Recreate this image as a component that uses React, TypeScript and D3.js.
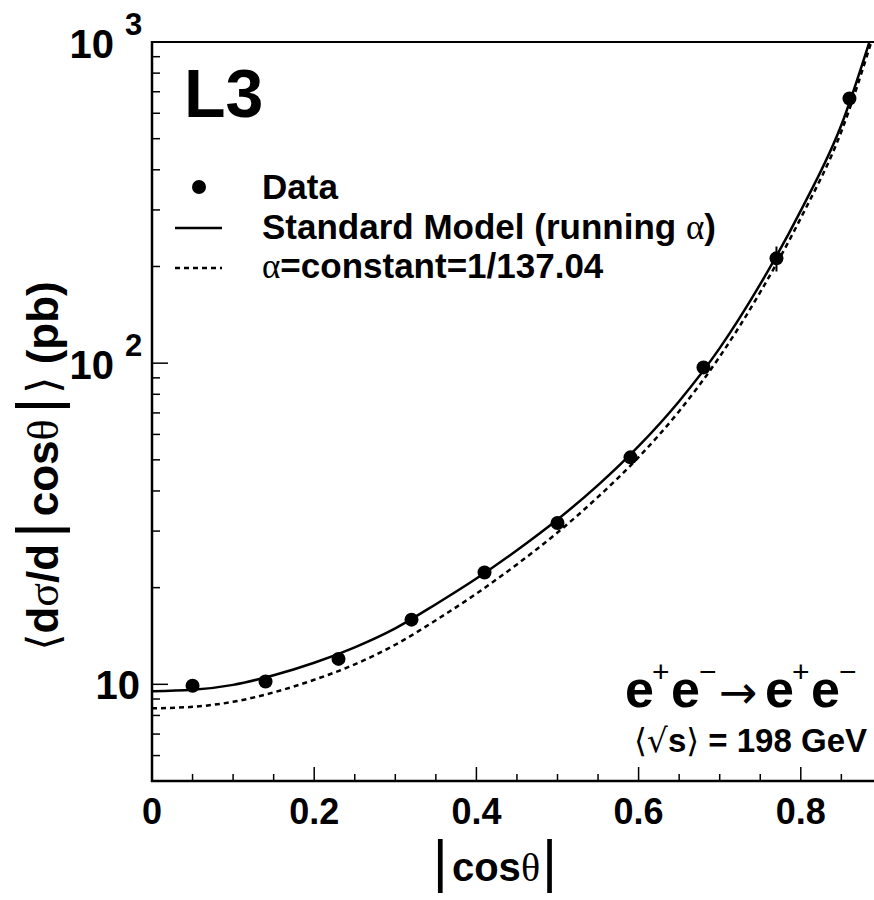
import React, { useEffect, useRef } from 'react';
import * as d3 from 'd3';

// measured points: |cos theta| bin centres, cross section (pb), error (pb)
const binCentres = [0.05, 0.14, 0.23, 0.32, 0.41, 0.5, 0.59, 0.68, 0.77, 0.86];
const dataXsec = [9.9, 10.2, 12.0, 15.9, 22.3, 31.8, 50.9, 97, 212, 667];
const dataErr = [0.3, 0.3, 0.35, 0.45, 0.6, 0.9, 1.5, 3, 19, 20];

// theory curves sampled along |cos theta|
const curveX = [0, 0.05, 0.1, 0.15, 0.2, 0.25, 0.3, 0.35, 0.4, 0.45, 0.5, 0.55, 0.6, 0.65, 0.7, 0.75, 0.8, 0.85, 0.89];
const smXsec = [9.51, 9.61, 9.96, 10.67, 11.67, 13.04, 14.94, 17.76, 21.35, 26.15, 32.6, 41.7, 55.14, 76.14, 111.4, 176.2, 298.5, 551.3, 1105];
const constXsec = [8.42, 8.51, 8.82, 9.44, 10.33, 11.54, 13.28, 15.83, 19.16, 23.63, 29.68, 38.33, 50.95, 70.88, 104.8, 166.4, 283.1, 526.3, 1059];

const xTickLabels = ['0', '0.2', '0.4', '0.6', '0.8'];

const FONT = '"Liberation Sans", Arial, Helvetica, sans-serif';
const SYM = '"Liberation Serif", "DejaVu Serif", serif';
const DJ = '"DejaVu Sans", sans-serif';

const App = () => {
  const svgRef = useRef(null);

  useEffect(() => {
    const W = 874;
    const H = 900;
    const left = 152;
    const top = 42;
    const bottom = 781;

    const svg = d3.select(svgRef.current).attr('width', W).attr('height', H);
    svg.selectAll('*').remove();

    const x = d3.scaleLinear().domain([0, 0.89]).range([left, left + 0.89 * 811]);
    const y = d3.scaleLog().domain([5, 1000]).range([bottom, top]);
    const right = x(0.89);

    svg.append('defs').append('clipPath').attr('id', 'plotclip')
      .append('rect').attr('x', left).attr('y', top).attr('width', right - left).attr('height', bottom - top);

    // frame (right side falls off the picture)
    const frame = svg.append('g').attr('stroke', '#000').attr('fill', 'none');
    frame.append('line').attr('x1', left).attr('x2', right + 2).attr('y1', top).attr('y2', top).attr('stroke-width', 2);
    frame.append('line').attr('x1', left).attr('x2', left).attr('y1', top - 1).attr('y2', bottom + 1).attr('stroke-width', 2.5);
    frame.append('line').attr('x1', left - 1).attr('x2', right + 2).attr('y1', bottom).attr('y2', bottom).attr('stroke-width', 2.5);

    // y ticks
    const yMinor = [];
    [1, 10, 100].forEach(dec => {
      for (let k = 1; k <= 9; k++) {
        const v = dec * k;
        if (v > 5 && v < 1000) yMinor.push(v);
      }
    });
    svg.append('g').selectAll('line').data(yMinor).enter().append('line')
      .attr('x1', left).attr('x2', d => left + (d === 10 || d === 100 ? 16 : 8))
      .attr('y1', d => y(d)).attr('y2', d => y(d))
      .attr('stroke', '#000').attr('stroke-width', 1.5);

    // x ticks
    const xt = d3.range(0, 18).map(i => i * 0.05);
    svg.append('g').selectAll('line').data(xt).enter().append('line')
      .attr('x1', d => x(d)).attr('x2', d => x(d))
      .attr('y1', bottom).attr('y2', (d, i) => bottom - (i % 4 === 0 ? 14 : 7))
      .attr('stroke', '#000').attr('stroke-width', 1.5);

    // x tick labels
    svg.append('g').selectAll('text').data(xTickLabels).enter().append('text')
      .attr('x', (d, i) => x(i * 0.2)).attr('y', 824)
      .attr('text-anchor', 'middle').attr('font-family', FONT).attr('font-weight', 'bold')
      .attr('font-size', 36).text(d => d);

    // y tick labels
    const yLab = svg.append('g').attr('font-family', FONT).attr('font-weight', 'bold');
    yLab.append('text').attr('x', 140).attr('y', y(10) + 15).attr('text-anchor', 'end')
      .attr('font-size', 40).text('10');
    [[100, '2'], [1000, '3']].forEach(([v, p]) => {
      yLab.append('text').attr('x', 114).attr('y', y(v) + 16).attr('text-anchor', 'end')
        .attr('font-size', 40).text('10');
      yLab.append('text').attr('x', 125).attr('y', y(v) - 7).attr('font-size', 31).text(p);
    });

    // theory curves
    const line = d3.line().x(d => x(d[0])).y(d => y(d[1])).curve(d3.curveMonotoneX);
    const plot = svg.append('g').attr('clip-path', 'url(#plotclip)');
    plot.append('path').attr('d', line(curveX.map((c, i) => [c, constXsec[i]])))
      .attr('fill', 'none').attr('stroke', '#000').attr('stroke-width', 2.5).attr('stroke-dasharray', '5,4');
    plot.append('path').attr('d', line(curveX.map((c, i) => [c, smXsec[i]])))
      .attr('fill', 'none').attr('stroke', '#000').attr('stroke-width', 2.5);

    // data points
    const pts = binCentres.map((c, i) => ({ c, v: dataXsec[i], e: dataErr[i] }));
    plot.append('g').selectAll('line').data(pts).enter().append('line')
      .attr('x1', d => x(d.c)).attr('x2', d => x(d.c))
      .attr('y1', d => y(d.v - d.e)).attr('y2', d => y(d.v + d.e))
      .attr('stroke', '#000').attr('stroke-width', 2);
    plot.append('g').selectAll('circle').data(pts).enter().append('circle')
      .attr('cx', d => x(d.c)).attr('cy', d => y(d.v)).attr('r', 7).attr('fill', '#000');

    // L3 logo
    svg.append('text').attr('x', 184).attr('y', 117).attr('font-family', FONT)
      .attr('font-weight', 'bold').attr('font-size', 68).text('L3');

    // legend
    const leg = svg.append('g').attr('font-family', FONT).attr('font-weight', 'bold').attr('font-size', 35);
    leg.append('circle').attr('cx', 199).attr('cy', 187).attr('r', 7).attr('fill', '#000');
    leg.append('text').attr('x', 262).attr('y', 199).text('Data');
    leg.append('line').attr('x1', 175).attr('x2', 222).attr('y1', 228).attr('y2', 228)
      .attr('stroke', '#000').attr('stroke-width', 2.5);
    const t2 = leg.append('text').attr('x', 262).attr('y', 239);
    t2.append('tspan').text('Standard Model (running ');
    t2.append('tspan').attr('font-family', SYM).attr('font-weight', 'normal').text('α');
    t2.append('tspan').text(')');
    leg.append('line').attr('x1', 175).attr('x2', 222).attr('y1', 268).attr('y2', 268)
      .attr('stroke', '#000').attr('stroke-width', 2.5).attr('stroke-dasharray', '5,4');
    const t3 = leg.append('text').attr('x', 262).attr('y', 278);
    t3.append('tspan').attr('font-family', SYM).attr('font-weight', 'normal').text('α');
    t3.append('tspan').text('=constant=1/137.04');

    // process label
    const proc = svg.append('g').attr('font-family', FONT);
    const big = 52;
    const pieces = [
      { t: 'e', x: 625, y: 707, s: big, b: true },
      { t: '+', x: 652, y: 682, s: 30, b: false },
      { t: 'e', x: 671, y: 707, s: big, b: true },
      { t: '−', x: 699, y: 682, s: 30, b: false },
      { t: '→', x: 719, y: 708, s: 46, b: false },
      { t: 'e', x: 765, y: 707, s: big, b: true },
      { t: '+', x: 792, y: 682, s: 30, b: false },
      { t: 'e', x: 811, y: 707, s: big, b: true },
      { t: '−', x: 839, y: 682, s: 30, b: false },
    ];
    pieces.forEach(p => {
      proc.append('text').attr('x', p.x).attr('y', p.y).attr('font-size', p.s)
        .attr('font-weight', p.b ? 'bold' : 'normal')
        .attr('font-family', p.t === '→' ? DJ : FONT).text(p.t);
    });
    const rs = proc.append('text').attr('x', 867).attr('y', 752).attr('text-anchor', 'end')
      .attr('font-size', 33).attr('font-weight', 'bold');
    rs.append('tspan').attr('font-weight', 'normal').attr('font-family', DJ).text('⟨√');
    rs.append('tspan').text('s');
    rs.append('tspan').attr('font-weight', 'normal').attr('font-family', DJ).text('⟩');
    rs.append('tspan').text(' = 198 GeV');

    // x axis title
    const xt2 = svg.append('text').attr('x', 495).attr('y', 881).attr('text-anchor', 'middle')
      .attr('font-family', FONT).attr('font-weight', 'bold').attr('font-size', 40);
    xt2.append('tspan').attr('font-weight', 'normal').attr('font-size', 58).text('|');
    xt2.append('tspan').attr('dx', 4).text('cos');
    xt2.append('tspan').attr('font-family', SYM).attr('font-weight', 'normal').text('θ');
    xt2.append('tspan').attr('dx', 2).attr('font-weight', 'normal').attr('font-size', 58).text('|');

    // y axis title
    const yt = svg.append('text').attr('transform', 'translate(58,466) rotate(-90)')
      .attr('text-anchor', 'middle').attr('font-family', FONT).attr('font-weight', 'bold').attr('font-size', 44);
    yt.append('tspan').attr('font-weight', 'normal').attr('font-family', DJ).text('⟨');
    yt.append('tspan').text('d');
    yt.append('tspan').attr('font-family', SYM).attr('font-weight', 'normal').text('σ');
    yt.append('tspan').text('/d');
    yt.append('tspan').attr('dx', 6).attr('font-weight', 'normal').attr('font-size', 60).text('|');
    yt.append('tspan').attr('dx', 6).text('cos');
    yt.append('tspan').attr('font-family', SYM).attr('font-weight', 'normal').text('θ');
    yt.append('tspan').attr('dx', 6).attr('font-weight', 'normal').attr('font-size', 60).text('|');
    yt.append('tspan').attr('dx', 4).attr('font-weight', 'normal').attr('font-family', DJ).text('⟩');
    yt.append('tspan').text(' (pb)');
  }, []);

  return <svg ref={svgRef} style={{ position: 'absolute', left: 0, top: 0 }} />;
};

export default App;
